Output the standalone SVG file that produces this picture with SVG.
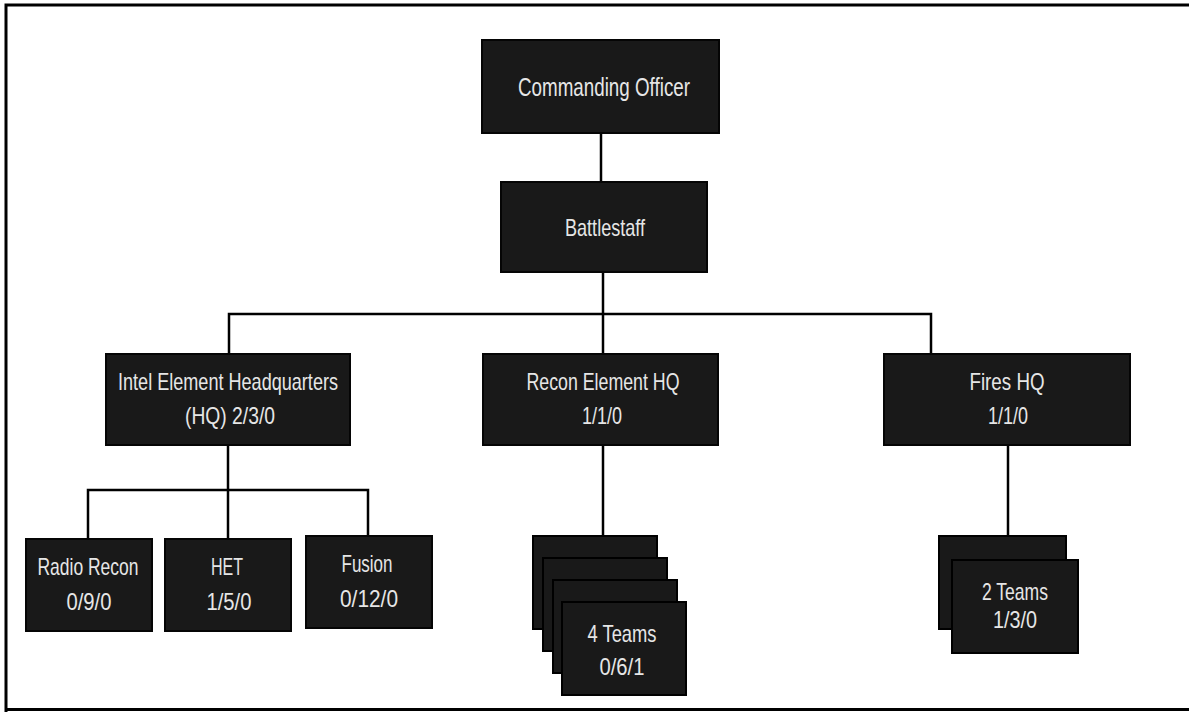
<svg xmlns="http://www.w3.org/2000/svg" width="1189" height="712" viewBox="0 0 1189 712">
<style>
.box{fill:#191919;stroke:#050505;stroke-width:2}
.stk{fill:#191919;stroke:#000;stroke-width:2}
.t{fill:#e6e6e6;font-family:"Liberation Sans",Arial,sans-serif;font-size:24px;text-anchor:middle}
.ln{stroke:#000;stroke-width:2.5;fill:none}
</style>
<rect x="0" y="0" width="1189" height="712" fill="#fff"/>
<path d="M6,712 V5 H1189 M6,709.5 H1189" stroke="#000" stroke-width="3" fill="none"/>
<g id="connectors">
<path class="ln" d="M601,133 V182"/>
<path class="ln" d="M603,272 V314"/>
<path class="ln" d="M229,354 V314 H931 V354"/>
<path class="ln" d="M603,314 V354"/>
<path class="ln" d="M228,445 V490"/>
<path class="ln" d="M88,539 V490 H368 V536"/>
<path class="ln" d="M228,490 V539"/>
<path class="ln" d="M603,445 V537"/>
<path class="ln" d="M1008,445 V536"/>
</g>
<g id="commanding-officer"><rect class="box" x="482" y="40" width="237" height="93"/><text class="t" x="604" y="96" textLength="172" lengthAdjust="spacingAndGlyphs" style="font-size:26px">Commanding Officer</text></g>
<g id="battlestaff"><rect class="box" x="501" y="182" width="206" height="90"/><text class="t" x="605" y="236" textLength="80" lengthAdjust="spacingAndGlyphs">Battlestaff</text></g>
<g id="intel-hq"><rect class="box" x="106" y="354" width="244" height="91"/><text class="t" x="228" y="390" textLength="220" lengthAdjust="spacingAndGlyphs">Intel Element Headquarters</text><text class="t" x="230" y="424" textLength="90" lengthAdjust="spacingAndGlyphs">(HQ) 2/3/0</text></g>
<g id="recon-hq"><rect class="box" x="483" y="354" width="235" height="91"/><text class="t" x="603" y="390" textLength="153" lengthAdjust="spacingAndGlyphs">Recon Element HQ</text><text class="t" x="602" y="424" textLength="40" lengthAdjust="spacingAndGlyphs">1/1/0</text></g>
<g id="fires-hq"><rect class="box" x="884" y="354" width="246" height="91"/><text class="t" x="1007" y="390" textLength="75" lengthAdjust="spacingAndGlyphs">Fires HQ</text><text class="t" x="1008" y="424" textLength="40" lengthAdjust="spacingAndGlyphs">1/1/0</text></g>
<g id="radio-recon"><rect class="box" x="26" y="539" width="126" height="92"/><text class="t" x="88" y="575" textLength="101" lengthAdjust="spacingAndGlyphs">Radio Recon</text><text class="t" x="89" y="610" textLength="45" lengthAdjust="spacingAndGlyphs">0/9/0</text></g>
<g id="het"><rect class="box" x="165" y="539" width="126" height="92"/><text class="t" x="227" y="575" textLength="32" lengthAdjust="spacingAndGlyphs">HET</text><text class="t" x="229" y="610" textLength="45" lengthAdjust="spacingAndGlyphs">1/5/0</text></g>
<g id="fusion"><rect class="box" x="306" y="536" width="126" height="92"/><text class="t" x="367" y="572" textLength="51" lengthAdjust="spacingAndGlyphs">Fusion</text><text class="t" x="369" y="607" textLength="58" lengthAdjust="spacingAndGlyphs">0/12/0</text></g>
<g id="recon-teams">
<rect class="stk" x="533" y="536" width="124" height="93"/>
<rect class="stk" x="543" y="558" width="124" height="93"/>
<rect class="stk" x="553" y="580" width="124" height="93"/>
<rect class="stk" x="562" y="602" width="124" height="93"/>
<text class="t" x="622" y="642" textLength="69" lengthAdjust="spacingAndGlyphs">4 Teams</text><text class="t" x="622" y="675" textLength="45" lengthAdjust="spacingAndGlyphs">0/6/1</text>
</g>
<g id="fires-teams">
<rect class="stk" x="939" y="536" width="127" height="93"/>
<rect class="stk" x="952" y="560" width="126" height="93"/>
<text class="t" x="1015" y="600" textLength="66" lengthAdjust="spacingAndGlyphs">2 Teams</text><text class="t" x="1015" y="628" textLength="44" lengthAdjust="spacingAndGlyphs">1/3/0</text>
</g>
</svg>
